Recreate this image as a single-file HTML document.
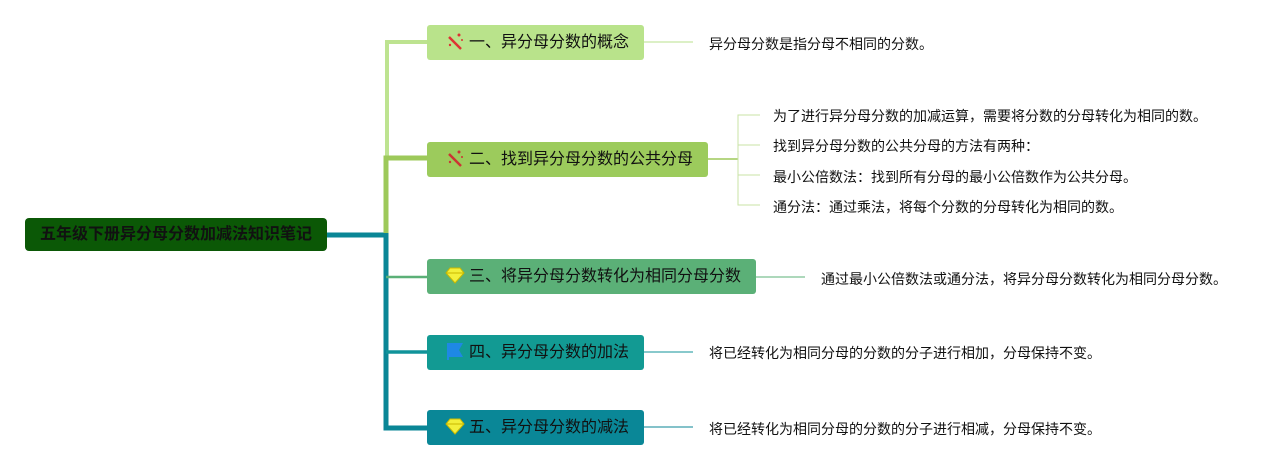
<!DOCTYPE html>
<html><head><meta charset="utf-8"><style>
body{margin:0;width:1287px;height:470px;background:#fff;position:relative;overflow:hidden;font-family:"Liberation Sans","Noto Sans CJK SC",sans-serif}
.n{position:absolute;border-radius:3px;color:#111;font-size:16px;line-height:35px;height:35px;box-sizing:border-box;padding-left:18px;white-space:nowrap}
.t{position:absolute;font-size:14px;color:#111;white-space:nowrap;line-height:16px}
.ic{display:inline-block;width:20px;height:20px;margin-right:4px;vertical-align:-4px}
</style></head><body>
<svg width="1287" height="470" style="position:absolute;left:0;top:0">
<g fill="none">
<line x1="327" y1="235" x2="388" y2="235" stroke="#0a8696" stroke-width="5"/>
<polyline points="427,42 387,42 387,158" stroke="#bde390" stroke-width="4"/>
<polyline points="427,158 386,158 386,236" stroke="#9dc95a" stroke-width="5"/>
<polyline points="386,233 386,428 427,428" stroke="#0a8696" stroke-width="5"/>
<line x1="386" y1="277" x2="427" y2="277" stroke="#5bb077" stroke-width="2.5"/>
<line x1="386" y1="352" x2="427" y2="352" stroke="#10939a" stroke-width="3.5"/>
<line x1="644" y1="42" x2="693" y2="42" stroke="#b9e08c" stroke-width="1"/>
<line x1="708" y1="159" x2="738" y2="159" stroke="#9dc95a" stroke-width="1.5"/>
<polyline points="760,115 738,115 738,205 760,205" stroke="#c9e3a5" stroke-width="1"/>
<line x1="738" y1="145" x2="760" y2="145" stroke="#c9e3a5"/>
<line x1="738" y1="175" x2="760" y2="175" stroke="#c9e3a5"/>
<line x1="756" y1="277" x2="805" y2="277" stroke="#5bb077" stroke-width="1"/>
<line x1="644" y1="352" x2="693" y2="352" stroke="#10939a" stroke-width="1"/>
<line x1="644" y1="427" x2="693" y2="427" stroke="#0a8696" stroke-width="1"/>
</g></svg>
<div class="n" style="left:25px;top:218px;width:302px;height:33px;line-height:33px;background:#0b5806;border-radius:4px;padding-left:0;text-align:center;font-weight:bold;font-size:16px;color:#111">五年级下册异分母分数加减法知识笔记</div>
<div class="n" style="left:427px;top:25px;width:217px;background:#b9e38b"><svg class="ic" viewBox="0 0 20 20"><line x1="4" y1="6" x2="16" y2="18" stroke="#d33" stroke-width="2.5"/><circle cx="14" cy="4" r="1.5" fill="#d33"/><circle cx="5" cy="14" r="1.2" fill="#d33"/><circle cx="17" cy="9" r="1" fill="#d33"/></svg>一、异分母分数的概念</div>
<div class="n" style="left:427px;top:142px;width:281px;background:#9ccb5c"><svg class="ic" viewBox="0 0 20 20"><line x1="4" y1="6" x2="16" y2="18" stroke="#c33" stroke-width="2.5"/><circle cx="14" cy="4" r="1.5" fill="#c33"/><circle cx="5" cy="14" r="1.2" fill="#c33"/><circle cx="17" cy="9" r="1" fill="#c33"/></svg>二、找到异分母分数的公共分母</div>
<div class="n" style="left:427px;top:259px;width:329px;background:#5bb077"><svg class="ic" viewBox="0 0 20 20"><polygon points="5,3 15,3 19,8 10,18 1,8" fill="#f3f03a" stroke="#c9b800" stroke-width="1"/><line x1="1" y1="8" x2="19" y2="8" stroke="#c9b800"/></svg>三、将异分母分数转化为相同分母分数</div>
<div class="n" style="left:427px;top:335px;width:217px;background:#129a93"><svg class="ic" viewBox="0 0 20 20"><polygon points="2,2 18,2 14,9 18,16 2,16" fill="#1e88e5"/><rect x="2" y="2" width="2" height="17" fill="#1e88e5"/></svg>四、异分母分数的加法</div>
<div class="n" style="left:427px;top:410px;width:217px;background:#0a8797"><svg class="ic" viewBox="0 0 20 20"><polygon points="5,3 15,3 19,8 10,18 1,8" fill="#f3f03a" stroke="#c9b800" stroke-width="1"/><line x1="1" y1="8" x2="19" y2="8" stroke="#c9b800"/></svg>五、异分母分数的减法</div>
<div class="t" style="left:709px;top:36px">异分母分数是指分母不相同的分数。</div>
<div class="t" style="left:773px;top:108px">为了进行异分母分数的加减运算，需要将分数的分母转化为相同的数。</div>
<div class="t" style="left:773px;top:138px">找到异分母分数的公共分母的方法有两种：</div>
<div class="t" style="left:773px;top:169px">最小公倍数法：找到所有分母的最小公倍数作为公共分母。</div>
<div class="t" style="left:773px;top:199px">通分法：通过乘法，将每个分数的分母转化为相同的数。</div>
<div class="t" style="left:821px;top:271px">通过最小公倍数法或通分法，将异分母分数转化为相同分母分数。</div>
<div class="t" style="left:709px;top:345px">将已经转化为相同分母的分数的分子进行相加，分母保持不变。</div>
<div class="t" style="left:709px;top:421px">将已经转化为相同分母的分数的分子进行相减，分母保持不变。</div>
</body></html>
